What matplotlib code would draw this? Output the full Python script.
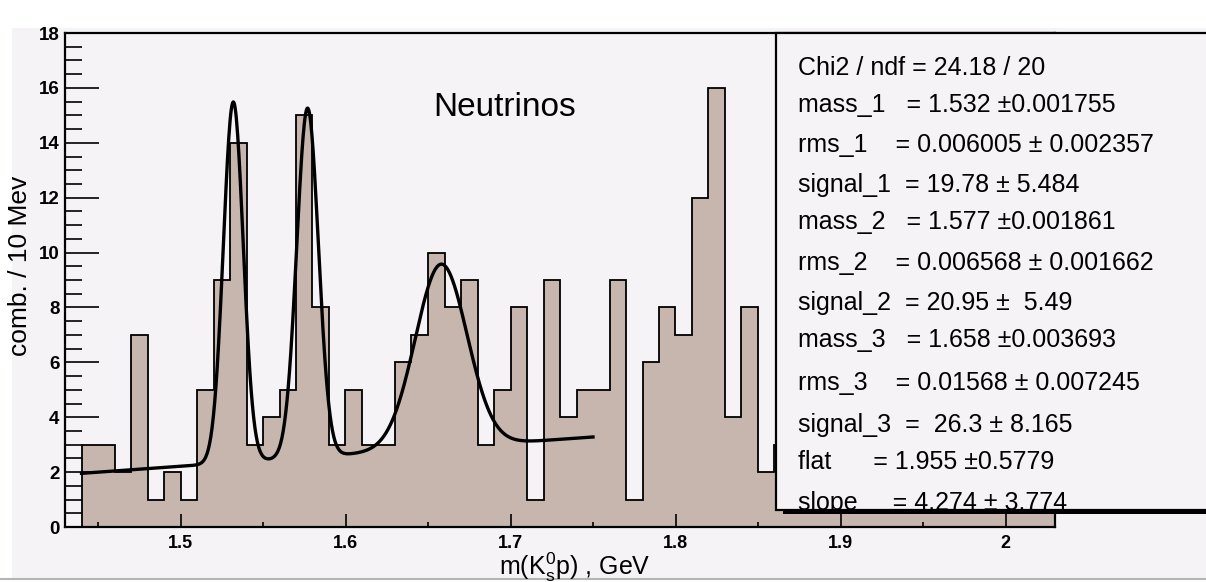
import numpy as np
import matplotlib.pyplot as plt
from matplotlib.patches import Rectangle
from matplotlib.ticker import MultipleLocator

W, H = 1206, 582
plt.rcParams['font.family'] = ['Liberation Sans', 'DejaVu Sans']
plt.rcParams['mathtext.fontset'] = 'custom'
plt.rcParams['mathtext.rm'] = 'Liberation Sans'
plt.rcParams['mathtext.it'] = 'Liberation Sans:italic'

# K0s p invariant mass, 10 MeV bins from 1.43 to 2.03 GeV
bin_lo = 1.43
bin_w = 0.01
counts = [0, 3, 3, 2, 7, 1, 2, 1, 5, 9,
          14, 3, 4, 5, 15, 8, 3, 5, 3, 3,
          6, 7, 10, 8, 9, 3, 5, 8, 1, 9,
          4, 5, 5, 9, 1, 6, 8, 7, 12, 16,
          4, 8, 2, 3, 2, 4, 1, 2, 3, 1,
          2, 2, 1, 3, 1, 2, 1, 1, 2, 1]

# fit: three gaussians on a linear background
fit_lo, fit_hi = 1.44, 1.75
chi2, ndf = 24.18, 20
mass = [1.532, 1.577, 1.658]
mass_err = [0.001755, 0.001861, 0.003693]
rms = [0.006005, 0.006568, 0.01568]
rms_err = [0.002357, 0.001662, 0.007245]
signal = [19.78, 20.95, 26.3]
signal_err = [5.484, 5.49, 8.165]
flat, flat_err = 1.955, 0.5779
slope, slope_err = 4.274, 3.774

xticks = [1.5, 1.6, 1.7, 1.8, 1.9, 2.0]
xtick_labels = ['1.5', '1.6', '1.7', '1.8', '1.9', '2']

BG = '#f6f3f7'
FILL = '#c7b6ad'


def px(x):
    return x / W


def py(y):
    return 1 - y / H


def fit_func(x):
    y = flat + slope * (x - fit_lo)
    for m, s, n in zip(mass, rms, signal):
        y = y + n * bin_w / (np.sqrt(2 * np.pi) * s) * np.exp(-0.5 * ((x - m) / s) ** 2)
    return y


fig = plt.figure(figsize=(W / 100, H / 100), dpi=100, facecolor='white')
# canvas area
fig.add_artist(Rectangle((px(12), py(578)), 1, py(28) - py(578), transform=fig.transFigure,
                         facecolor=BG, edgecolor='none', zorder=-10))
fig.add_artist(plt.Line2D([0, 1], [py(578.5), py(578.5)], transform=fig.transFigure,
                          color='#b4b4b4', lw=1.5, zorder=-9))

ax = fig.add_axes([px(65), py(527), px(1055 - 65), py(33) - py(527)])
ax.set_facecolor(BG)

edges = bin_lo + bin_w * np.arange(len(counts) + 1)
ax.stairs(counts, edges, fill=True, color=FILL, zorder=1)
ax.stairs(counts, edges, color='black', lw=1.3, zorder=2)

xf = np.linspace(fit_lo, fit_hi, 800)
ax.plot(xf, fit_func(xf), color='black', lw=2.4, zorder=3)

ax.set_xlim(1.43, 2.03)
ax.set_ylim(0, 18)
ax.set_xticks(xticks)
ax.set_xticklabels(xtick_labels)
ax.xaxis.set_minor_locator(MultipleLocator(0.05))
ax.yaxis.set_major_locator(MultipleLocator(2))
ax.yaxis.set_minor_locator(MultipleLocator(0.5))
ax.tick_params(axis='y', which='major', direction='in', length=24.5, width=1.2, pad=4,
               labelsize=13.5)
ax.tick_params(axis='y', which='minor', direction='in', length=12.2, width=1.2)
ax.tick_params(axis='x', which='major', direction='in', length=9.5, width=1.2, pad=6,
               labelsize=13)
ax.tick_params(axis='x', which='minor', direction='in', length=3.8, width=1.2)
for lab in ax.get_xticklabels() + ax.get_yticklabels():
    lab.set_fontweight('bold')
for side in ['left', 'bottom', 'top', 'right']:
    ax.spines[side].set_linewidth(1.6)

ax.text(1.6966, 15.3, 'Neutrinos', fontsize=24, ha='center', va='center', zorder=4)

fig.text(px(575), py(567), r'm(K$^{0}_{\mathrm{s}}$p) , GeV', fontsize=18, ha='center', va='center')
fig.text(px(20), py(266), 'comb. / 10 Mev', fontsize=19, rotation=90, ha='center', va='center')

# fit statistics box with shadow
fig.add_artist(Rectangle((px(783), py(514)), 1, py(40) - py(514), transform=fig.transFigure,
                         facecolor='black', edgecolor='none', zorder=5))
fig.add_artist(Rectangle((px(776), py(510)), 1, py(33) - py(510), transform=fig.transFigure,
                         facecolor=BG, edgecolor='black', lw=1.6, zorder=6))

stat_lines = [
    f'Chi2 / ndf = {chi2} / {ndf}',
    f'mass_1   = {mass[0]} ±{mass_err[0]}',
    f'rms_1    = {rms[0]} ± {rms_err[0]}',
    f'signal_1  = {signal[0]} ± {signal_err[0]}',
    f'mass_2   = {mass[1]} ±{mass_err[1]}',
    f'rms_2    = {rms[1]} ± {rms_err[1]}',
    f'signal_2  = {signal[1]} ±  {signal_err[1]}',
    f'mass_3   = {mass[2]} ±{mass_err[2]}',
    f'rms_3    = {rms[2]} ± {rms_err[2]}',
    f'signal_3  =  {signal[2]} ± {signal_err[2]}',
    f'flat      = {flat} ±{flat_err}',
    f'slope     = {slope} ± {slope_err}',
]
line_y = [68, 105, 145, 185, 222, 263, 303, 340, 383, 425, 462, 503]
box_clip = Rectangle((px(776), py(510)), 1, py(33) - py(510), transform=fig.transFigure)
for s, yy in zip(stat_lines, line_y):
    t = fig.text(px(798), py(yy), s, fontsize=18, ha='left', va='center', zorder=7)
    t.set_clip_path(box_clip)

fig.savefig('out.png', dpi=100, facecolor=fig.get_facecolor())
